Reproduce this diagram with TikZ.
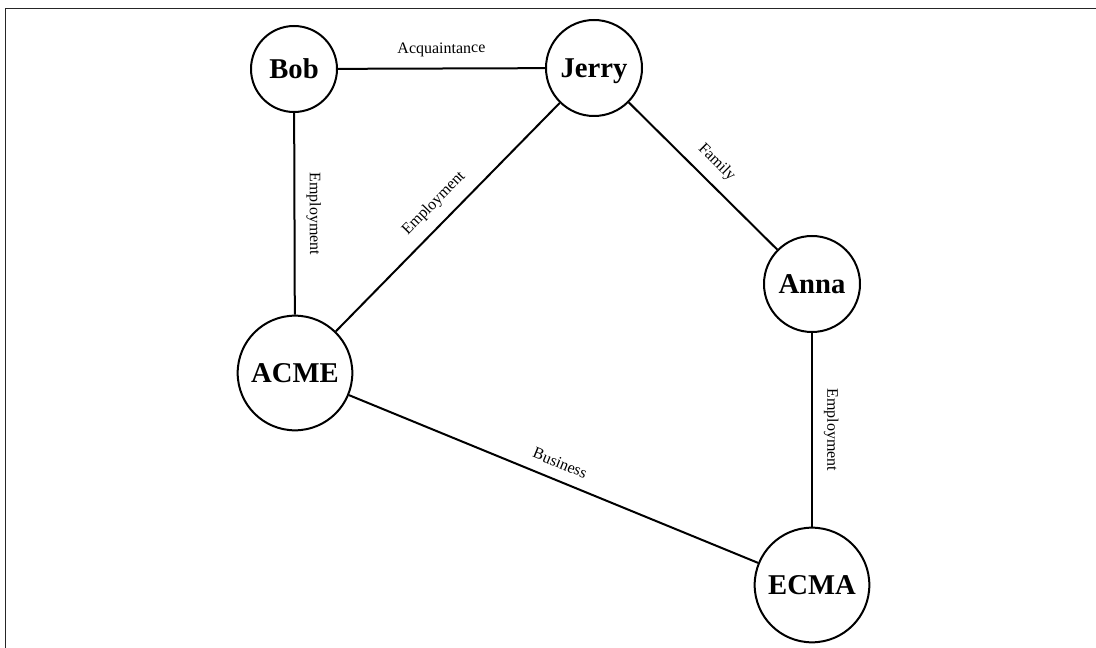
\documentclass[tikz,border=0pt]{standalone}
\usepackage{fontspec}
\setmainfont{Liberation Serif}
\begin{document}
\begin{tikzpicture}[x=0.75pt,y=-0.75pt,
  entity/.style={draw, circle, line width=1.5pt, inner sep=0pt,
    minimum size=#1, text height=14.5pt, text depth=0pt,
    font=\fontsize{21.5}{25}\selectfont\bfseries},
  link/.style={line width=1.5pt},
  rel/.style={font=\fontsize{12}{14}\selectfont, sloped, above,
    inner sep=1pt, outer sep=8pt},
  frame/.style={line width=1.1pt, black!85}]
\useasboundingbox (0,0) rectangle (1096,648);
% page frame
\draw[frame] (5.5,648) -- (5.5,8.5) -- (1096,8.5);

% entities
\node[entity=64.5pt] (bob)   at (294,69)  {Bob};
\node[entity=72pt]   (jerry) at (594,68)  {Jerry};
\node[entity=72pt]   (anna)  at (812,284) {Anna};
\node[entity=86pt]   (acme)  at (295,373) {ACME};
\node[entity=86pt]   (ecma)  at (812,585) {ECMA};

% relations
\draw[link] (bob) -- node[rel] {Acquaintance} (jerry);
\draw[link] (bob) -- node[rel, allow upside down] {Employment} (acme);
\draw[link] (jerry) -- node[rel] {Employment} (acme);
\draw[link] (jerry) -- node[rel] {Family} (anna);
\draw[link] (anna) -- node[rel, allow upside down] {Employment} (ecma);
\draw[link] (acme) -- node[rel] {Business} (ecma);
\end{tikzpicture}
\end{document}
